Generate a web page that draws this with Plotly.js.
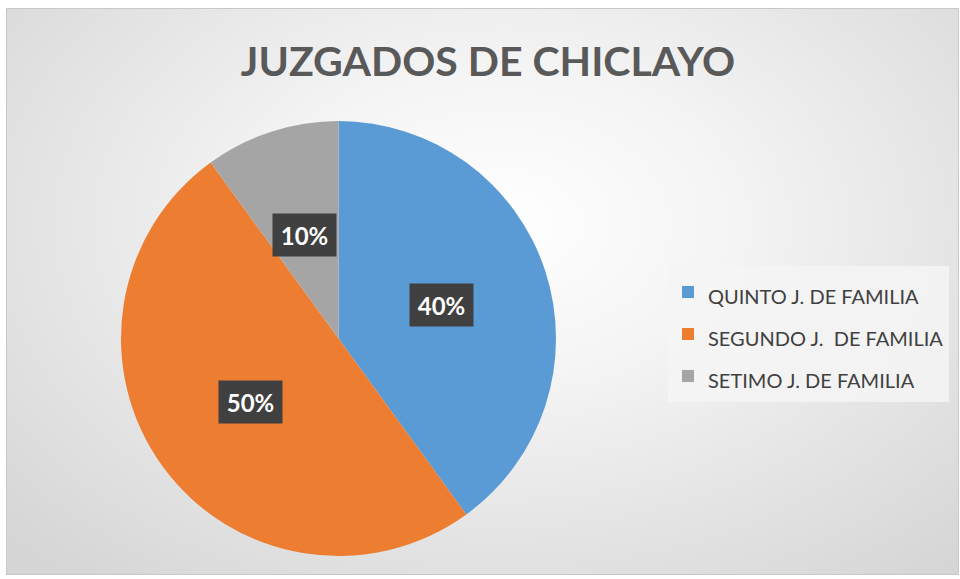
<!DOCTYPE html>
<html><head><meta charset="utf-8">
<script src="https://cdn.plot.ly/plotly-3.0.1.min.js"></script>
<style>
html,body{margin:0;padding:0;background:#fff;}
#wrap{position:absolute;left:0;top:0;width:960px;height:579px;}
#bg{position:absolute;left:6px;top:8px;width:953px;height:567px;border:1px solid #c8c8c8;box-sizing:border-box;
background:radial-gradient(ellipse 70% 80% at 52% 38%, #ffffff 0%, #f4f4f4 35%, #d6d6d6 100%);}
#chart{position:absolute;left:0;top:0;width:960px;height:579px;}
</style></head>
<body>
<div id="wrap"><div id="bg"></div><div id="chart"></div></div>
<script>
const categories = ["QUINTO J. DE FAMILIA", "SEGUNDO J.  DE FAMILIA", "SETIMO J. DE FAMILIA"];
const values = [40, 50, 10];
const colors = ["#5b9bd5", "#ed7d31", "#a5a5a5"];
const chartTitle = "JUZGADOS DE CHICLAYO";

const W = 960, H = 579;
const cx = 338.5, cy = 338.5, R = 217.5;
const dom = {x: [(cx - R) / W, (cx + R) / W], y: [(H - cy - R) / H, (H - cy + R) / H]};

// label positions derived from data (slice centroids at half radius)
const total = values.reduce((a, b) => a + b, 0);
let cum = 0;
const annotations = values.map((v, i) => {
  const mid = (cum + v / 2) / total * 2 * Math.PI;
  cum += v;
  const px = cx + 0.5 * R * Math.sin(mid);
  const py = cy - 0.5 * R * Math.cos(mid);
  return {
    x: px / W, y: 1 - py / H, xref: "paper", yref: "paper",
    text: "<b>" + Math.round(v / total * 100) + "%</b>", showarrow: false,
    font: {family: "Lato, 'Open Sans', sans-serif", size: 24, color: "#ffffff"},
    bgcolor: "#404040", borderpad: 3, width: 57, height: 36, xanchor: "center", yanchor: "middle"
  };
});

const legendLabels = categories.map(c => '<span style="font-size:20px">' + c + '</span>');

const data = [{
  type: "pie", labels: legendLabels, values: values, sort: false,
  direction: "clockwise", rotation: 0,
  marker: {colors: colors, line: {width: 0}},
  textinfo: "none", hoverinfo: "label+percent",
  domain: dom
}];

const layout = {
  width: W, height: H,
  margin: {l: 0, r: 0, t: 0, b: 0},
  paper_bgcolor: "rgba(0,0,0,0)", plot_bgcolor: "rgba(0,0,0,0)",
  title: {text: "<b>" + chartTitle + "</b>", x: 488 / W, xanchor: "center", y: 1 - 62 / H, yanchor: "middle",
    font: {family: "Lato, 'Open Sans', sans-serif", size: 41, color: "#595959"}},
  showlegend: true,
  legend: {x: 668 / W, y: 1 - 266 / H, xanchor: "left", yanchor: "top",
    bgcolor: "rgba(244,244,244,0.85)", bordercolor: "rgba(244,244,244,0.0)", borderwidth: 0,
    font: {family: "Lato, 'Open Sans', sans-serif", size: 30, color: "#404040"},
    itemwidth: 30},
  annotations: annotations
};

Plotly.newPlot("chart", data, layout, {displayModeBar: false, staticPlot: true});
</script>
</body></html>
